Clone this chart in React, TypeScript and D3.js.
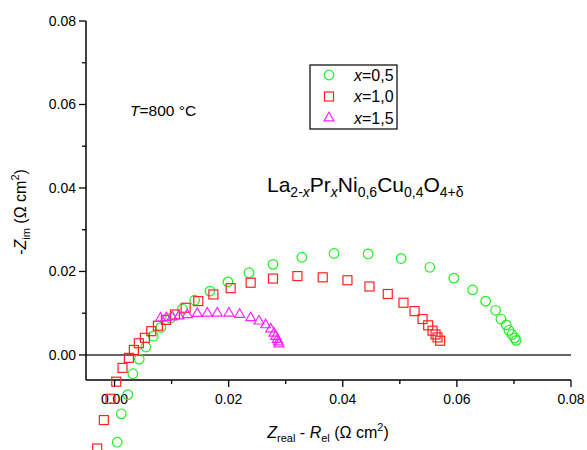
import React from 'react';
import * as d3 from 'd3';

// x = 0,5 (circles)
const zReal05 = [0.00047, 0.00118, 0.00233, 0.00321, 0.00433, 0.00549, 0.00679, 0.00812, 0.00982, 0.01188, 0.01404, 0.01672, 0.01988, 0.02356, 0.02777, 0.03284, 0.03847, 0.04444, 0.05023, 0.05526, 0.05947, 0.06275, 0.06504, 0.06679, 0.06772, 0.06865, 0.06912, 0.06965, 0.07012, 0.0704];
const zIm05 = [-0.0209, -0.0141, -0.0095, -0.0045, -0.001, 0.0019, 0.0045, 0.0066, 0.0088, 0.011, 0.0131, 0.0153, 0.0175, 0.0197, 0.0217, 0.0234, 0.0243, 0.0242, 0.0231, 0.021, 0.0184, 0.0156, 0.0129, 0.0107, 0.0086, 0.0072, 0.0059, 0.0049, 0.0041, 0.0035];

// x = 1,0 (squares)
const zReal10 = [-0.00304, -0.00187, -0.0007, 0.0003, 0.0014, 0.00251, 0.00339, 0.00426, 0.00532, 0.00644, 0.0076, 0.009, 0.01058, 0.01246, 0.01468, 0.01732, 0.02035, 0.02386, 0.02777, 0.03205, 0.03649, 0.04082, 0.04468, 0.04789, 0.05064, 0.05258, 0.05398, 0.05497, 0.05574, 0.05626, 0.05661, 0.05707];
const zIm10 = [-0.0224, -0.0156, -0.0105, -0.0064, -0.0031, -0.0007, 0.0012, 0.0028, 0.0041, 0.0057, 0.007, 0.0084, 0.0097, 0.0113, 0.0129, 0.0145, 0.016, 0.0173, 0.0183, 0.0189, 0.0186, 0.0179, 0.0164, 0.0146, 0.0125, 0.0105, 0.0086, 0.0071, 0.0058, 0.0049, 0.0042, 0.0034];

// x = 1,5 (triangles)
const zReal15 = [0.00807, 0.00907, 0.01012, 0.01128, 0.01275, 0.0145, 0.01626, 0.01801, 0.02005, 0.02193, 0.02386, 0.02532, 0.02649, 0.02737, 0.02795, 0.02825, 0.02854, 0.02872, 0.02882];
const zIm15 = [0.0088, 0.0089, 0.0091, 0.0093, 0.0096, 0.0099, 0.01, 0.01, 0.01, 0.0097, 0.0089, 0.0081, 0.0072, 0.0062, 0.0052, 0.0044, 0.0037, 0.0031, 0.0026];

const xMajor = [0, 0.02, 0.04, 0.06, 0.08];
const xMinor = [0.01, 0.03, 0.05, 0.07];
const yMajor = [0, 0.02, 0.04, 0.06, 0.08];
const yMinor = [0.01, 0.03, 0.05, 0.07];
const legendLabels = ['0,5', '1,0', '1,5'];

const W = 587;
const H = 450;
const font = '"Liberation Sans", Arial, sans-serif';

export default function App() {
  const x = d3.scaleLinear().domain([-0.005, 0.08]).range([86, 571]);
  const y = d3.scaleLinear().domain([-0.006, 0.08]).range([380, 21]);
  const fmt = d3.format('.2f');

  const triangle = d3.symbol().type(d3.symbolTriangle).size(42)() as string;

  const series = [
    { xs: zReal05, ys: zIm05, color: '#22ee22', shape: 'circle' },
    { xs: zReal10, ys: zIm10, color: '#ff2222', shape: 'square' },
    { xs: zReal15, ys: zIm15, color: '#ff22ff', shape: 'triangle' },
  ];

  const marker = (shape: string, color: string, cx: number, cy: number, key: any) => {
    if (shape === 'circle')
      return <circle key={key} cx={cx} cy={cy} r={4.8} fill="none" stroke={color} strokeWidth={1.2} />;
    if (shape === 'square')
      return <rect key={key} x={cx - 4.5} y={cy - 4.5} width={9} height={9} fill="none" stroke={color} strokeWidth={1.2} />;
    return <path key={key} d={triangle} transform={`translate(${cx},${cy})`} fill="none" stroke={color} strokeWidth={1.2} />;
  };

  return (
    <svg width={W} height={H} style={{ position: 'absolute', left: 0, top: 0, background: '#fff' }} fontFamily={font}>
      {/* zero line */}
      <line x1={x(-0.005)} x2={x(0.08)} y1={y(0)} y2={y(0)} stroke="#666" strokeWidth={2} />

      {/* axes */}
      <line x1={86} x2={86} y1={y(0.08)} y2={y(-0.006)} stroke="#000" strokeWidth={1.5} />
      <line x1={86} x2={571} y1={380} y2={380} stroke="#000" strokeWidth={1.5} />
      {yMajor.map(v => (
        <g key={'ym' + v}>
          <line x1={79} x2={86} y1={y(v)} y2={y(v)} stroke="#000" strokeWidth={1.3} />
          <text x={76} y={y(v)} dy="0.35em" textAnchor="end" fontSize={14}>{fmt(v)}</text>
        </g>
      ))}
      {yMinor.map(v => (
        <line key={'yn' + v} x1={82} x2={86} y1={y(v)} y2={y(v)} stroke="#000" strokeWidth={1.3} />
      ))}
      {xMajor.map(v => (
        <g key={'xm' + v}>
          <line x1={x(v)} x2={x(v)} y1={380} y2={387} stroke="#000" strokeWidth={1.3} />
          <text x={x(v)} y={404} textAnchor="middle" fontSize={14}>{fmt(v)}</text>
        </g>
      ))}
      {xMinor.map(v => (
        <line key={'xn' + v} x1={x(v)} x2={x(v)} y1={380} y2={384} stroke="#000" strokeWidth={1.3} />
      ))}

      {/* data */}
      {series.map((s, si) => (
        <g key={si}>
          {s.xs.map((v, i) => marker(s.shape, s.color, x(v), y(s.ys[i]), i))}
        </g>
      ))}

      {/* axis titles */}
      <text x={328} y={438} textAnchor="middle" fontSize={16}>
        <tspan fontStyle="italic">Z</tspan>
        <tspan fontSize={11} dy={4}>real</tspan>
        <tspan dy={-4}> - </tspan>
        <tspan fontStyle="italic">R</tspan>
        <tspan fontSize={11} dy={4}>el</tspan>
        <tspan dy={-4}> (Ω cm</tspan>
        <tspan fontSize={11} dy={-7}>2</tspan>
        <tspan dy={7}>)</tspan>
      </text>
      <text transform="translate(26,212) rotate(-90)" textAnchor="middle" fontSize={16}>
        <tspan>-</tspan>
        <tspan fontStyle="italic">Z</tspan>
        <tspan fontSize={11} dy={4}>im</tspan>
        <tspan dy={-4}> (Ω cm</tspan>
        <tspan fontSize={11} dy={-7}>2</tspan>
        <tspan dy={7}>)</tspan>
      </text>

      {/* annotations */}
      <text x={130} y={116} fontSize={15.5}>
        <tspan fontStyle="italic">T</tspan>=800 °C
      </text>
      <text x={267} y={192} fontSize={21}>
        La<tspan fontSize={14} dy={5}>2-</tspan><tspan fontSize={14} fontStyle="italic">x</tspan>
        <tspan dy={-5}>Pr</tspan><tspan fontSize={14} fontStyle="italic" dy={5}>x</tspan>
        <tspan dy={-5}>Ni</tspan><tspan fontSize={14} dy={5}>0,6</tspan>
        <tspan dy={-5}>Cu</tspan><tspan fontSize={14} dy={5}>0,4</tspan>
        <tspan dy={-5}>O</tspan><tspan fontSize={14} dy={5}>4+δ</tspan>
      </text>

      {/* legend */}
      <rect x={310} y={65} width={87} height={64} fill="none" stroke="#000" strokeWidth={1.2} />
      {series.map((s, i) => (
        <g key={'lg' + i}>
          {marker(s.shape, s.color, 329, 75 + i * 21.5, 'm')}
          <text x={354} y={75 + i * 21.5} dy="0.35em" fontSize={16}>
            <tspan fontStyle="italic">x</tspan>={legendLabels[i]}
          </text>
        </g>
      ))}
    </svg>
  );
}
